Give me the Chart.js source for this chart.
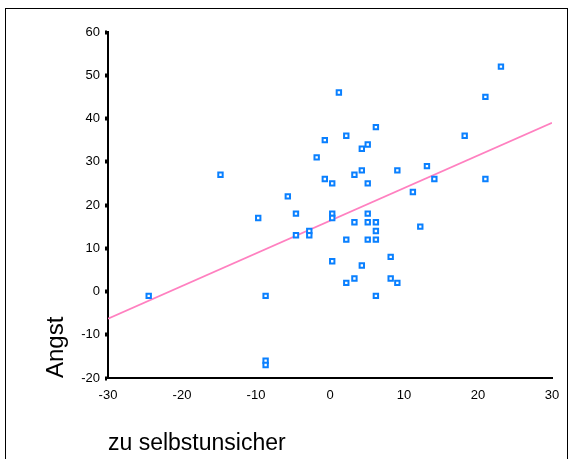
<!DOCTYPE html>
<html>
<head>
<meta charset="utf-8">
<script src="https://cdn.jsdelivr.net/npm/chart.js@4"></script>
<style>
  body { margin: 0; background: #fff; }
  #frame { position: absolute; left: 5px; top: 8px; width: 561px; height: 470px; border: 1px solid #000; }
  #scatter { position: absolute; left: 0; top: 0; }
</style>
</head>
<body>
<div id="frame"></div>
<canvas id="scatter" width="572" height="459"></canvas>
<script>
const selbstunsicher = [-24.5, -14.8, -9.7, -8.7, -8.7, -8.7, -5.7, -4.6, -4.6, -2.8, -2.8, -1.8, -0.7, -0.7,
  0.3, 0.3, 0.3, 0.3, 1.2, 2.2, 2.2, 2.2, 3.3, 3.3, 3.3, 4.3, 4.3, 4.3, 5.1, 5.1, 5.1, 5.1, 5.1,
  6.2, 6.2, 6.2, 6.2, 6.2, 8.2, 8.2, 9.1, 9.1, 11.2, 12.2, 13.1, 14.1, 18.2, 21.0, 21.0, 23.1];
const angst = [-1, 27, 17, -1, -16, -17, 22, 18, 13, 14, 13, 31, 35, 26,
  25, 18, 17, 7, 46, 36, 12, 2, 27, 16, 3, 33, 28, 6, 34, 25, 18, 16, 12,
  38, 16, 14, 12, -1, 8, 3, 28, 2, 23, 15, 29, 26, 36, 45, 26, 52];
// fit line end points
const fitX = [-30, 30];
const fitY = [-6.3, 39.0];
const xTicks = [-30, -20, -10, 0, 10, 20, 30];
const yTicks = [-20, -10, 0, 10, 20, 30, 40, 50, 60];

const points = selbstunsicher.map((x, i) => ({x: x, y: angst[i]}));
const fitLine = fitX.map((x, i) => ({x: x, y: fitY[i]}));

const ctx = document.getElementById('scatter');

const chart = new Chart(ctx, {
  type: 'scatter',
  data: {
    datasets: [{
      label: 'Angst',
      data: points,
      pointStyle: 'rect',
      pointRadius: 3.1,
      pointBorderWidth: 2,
      pointBorderColor: '#0a80ff',
      pointBackgroundColor: '#ffffff',
      order: 1
    }, {
      label: 'Fit',
      type: 'line',
      data: fitLine,
      borderColor: '#ff80c0',
      borderWidth: 1.8,
      pointRadius: 0,
      fill: false,
      order: 2
    }]
  },
  options: {
    responsive: false,
    animation: false,
    layout: { padding: { left: 0, right: 20, top: 32, bottom: 0 } },
    plugins: { legend: { display: false }, tooltip: { enabled: false } },
    scales: {
      x: {
        type: 'linear',
        min: -30,
        max: 30,
        afterBuildTicks: scale => { scale.ticks = xTicks.map(v => ({value: v})); },
        afterFit: scale => { scale.height = 81; },
        grid: { drawOnChartArea: false, drawTicks: false },
        border: { color: '#000', width: 2 },
        ticks: { color: '#000', padding: 10, font: { family: 'Liberation Sans', size: 13 } },
        title: {
          display: true,
          text: 'zu selbstunsicher',
          align: 'start',
          color: '#000',
          padding: { top: 0, bottom: 2 },
          font: { family: 'Liberation Sans', size: 23 }
        }
      },
      y: {
        type: 'linear',
        min: -20,
        max: 60,
        afterBuildTicks: scale => { scale.ticks = yTicks.map(v => ({value: v})); },
        afterFit: scale => { scale.width = 108; },
        grid: { drawOnChartArea: false, drawTicks: true, tickLength: 3, tickWidth: 4, tickColor: '#000' },
        border: { color: '#000', width: 2 },
        ticks: { color: '#000', padding: 5, font: { family: 'Liberation Sans', size: 13 } },
        title: {
          display: true,
          text: 'Angst',
          align: 'start',
          color: '#000',
          padding: { top: 42, bottom: 0 },
          font: { family: 'Liberation Sans', size: 24 }
        }
      }
    }
  }
});
</script>
</body>
</html>
